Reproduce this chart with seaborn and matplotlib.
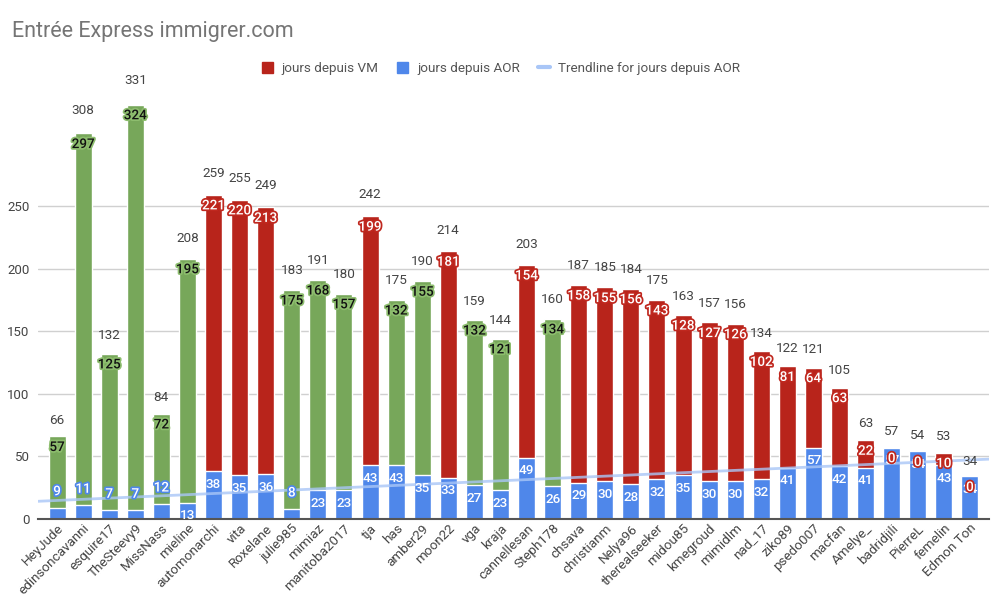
import matplotlib
matplotlib.use("Agg")
import matplotlib.pyplot as plt
import matplotlib.patheffects as pe
from matplotlib.patches import Patch
from matplotlib.lines import Line2D
import numpy as np
import pandas as pd
import seaborn as sns

# ---- data ----
names = ["HeyJude", "edinsoncavanni", "esquire17", "TheSteevy9", "MissNass", "mieline",
         "automonarchi", "vita", "Roxelane", "julie985", "mimiaz", "manitoba2017",
         "tja", "has", "amber29", "moon22", "vga", "kraja", "cannellesan", "Steph178",
         "chsava", "christianm", "Nelya96", "therealseeker", "midou85", "kmegroud",
         "mimidlm", "nad_17", "ziko89", "psedo007", "macfan", "Amelye_", "badridjili",
         "PierreL", "femelin", "Edmon Ton"]
jours_aor = [9, 11, 7, 7, 12, 13, 38, 35, 36, 8, 23, 23, 43, 43, 35, 33, 27, 23, 49, 26,
             29, 30, 28, 32, 35, 30, 30, 32, 41, 57, 42, 41, 57, 54, 43, 34]
jours_top = [57, 297, 125, 324, 72, 195, 221, 220, 213, 175, 168, 157, 199, 132, 155, 181,
             132, 121, 154, 134, 158, 155, 156, 143, 128, 127, 126, 102, 81, 64, 63, 22,
             0, 0, 10, 0]
top_kind = ["autre", "autre", "autre", "autre", "autre", "autre", "VM", "VM", "VM",
            "autre", "autre", "autre", "VM", "autre", "autre", "VM", "autre", "autre",
            "VM", "autre", "VM", "VM", "VM", "VM", "VM", "VM", "VM", "VM", "VM", "VM",
            "VM", "VM", "VM", "VM", "VM", "VM"]
totals = [66, 308, 132, 331, 84, 208, 259, 255, 249, 183, 191, 180, 242, 175, 190, 214,
          159, 144, 203, 160, 187, 185, 184, 175, 163, 157, 156, 134, 122, 121, 105, 63,
          57, 54, 53, 34]
y_ticks = [0, 50, 100, 150, 200, 250]

RED = "#b8241b"
BLUE = "#4f87ea"
GREEN = "#77a75a"
TREND = "#a9c6f7"
TXT = "#444444"

df = pd.DataFrame({"name": names, "aor": jours_aor, "top": jours_top,
                   "kind": top_kind, "total": totals})

sns.set_theme(style="white")
plt.rcParams["font.family"] = ["Roboto", "DejaVu Sans"]

fig = plt.figure(figsize=(10, 6.04), dpi=100)
ax = fig.add_axes([0.038, 0.1407, 0.951, 0.6937])

sns.barplot(data=df, x="name", y="total", hue="kind", order=names,
            palette={"VM": RED, "autre": GREEN}, dodge=False, width=0.65,
            saturation=1, legend=False, ax=ax, zorder=2)
sns.barplot(data=df, x="name", y="aor", order=names, color=BLUE, width=0.65,
            saturation=1, ax=ax, zorder=3)

# trendline for AOR
xs = np.arange(len(names))
coef = np.polyfit(xs, np.array(jours_aor, dtype=float), 1)
xl = np.array([-1.0, len(names)])
ax.plot(xl, np.polyval(coef, xl), color=TREND, lw=2, alpha=0.8, zorder=4,
        solid_capstyle="butt")

ax.set_xlim(-0.73, len(names) - 0.27)
ax.set_ylim(0, 334.7)
ax.set_yticks(y_ticks)
ax.set_yticklabels([str(v) for v in y_ticks], color=TXT, fontsize=9.5)
ax.grid(axis="y", color="#d0d0d0", lw=1, zorder=0)
ax.set_axisbelow(True)
ax.tick_params(axis="y", length=0, pad=6)
ax.tick_params(axis="x", length=0, pad=2)
ax.set_xticks(xs)
ax.set_xticklabels(names, rotation=45, ha="right", rotation_mode="anchor",
                   color=TXT, fontsize=9.7)
ax.set_xlabel("")
ax.set_ylabel("")
for s in ["top", "right", "left"]:
    ax.spines[s].set_visible(False)
ax.spines["bottom"].set_color("#555555")
ax.spines["bottom"].set_linewidth(1.5)
ax.spines["bottom"].set_zorder(5)

fs = 9.7
# blue labels
for i, v in enumerate(jours_aor):
    if v < 13:
        ax.annotate(str(v), (i, v), xytext=(0, 11.5), textcoords="offset points",
                    ha="center", va="center", color="white", fontsize=fs,
                    fontweight="medium", zorder=6,
                    path_effects=[pe.withStroke(linewidth=2.5, foreground=BLUE)])
    else:
        ax.annotate(str(v), (i, v), xytext=(0, -9.5), textcoords="offset points",
                    ha="center", va="center", color="white", fontsize=fs,
                    fontweight="medium", zorder=6)

# top segment labels
for i, (v, k, t) in enumerate(zip(jours_top, top_kind, totals)):
    if k == "VM":
        col, stroke = "white", "#c0281f"
    else:
        col, stroke = "#111111", "#8dbd6e"
    ax.annotate(str(v), (i, t), xytext=(0, -8), textcoords="offset points",
                ha="center", va="center", color=col, fontsize=fs,
                fontweight="medium", zorder=7,
                path_effects=[pe.withStroke(linewidth=2.5, foreground=stroke)])

# totals
for i, t in enumerate(totals):
    ax.annotate(str(t), (i, t), xytext=(0, (14.4 + 0.028 * t) / 1.389),
                textcoords="offset points", ha="center", va="center",
                color=TXT, fontsize=fs, zorder=7, annotation_clip=False)

fig.text(0.012, 0.948, "Entrée Express immigrer.com", fontsize=15.5, color="#757575",
         ha="left", va="center")

handles = [Patch(facecolor=RED, edgecolor=RED),
           Patch(facecolor=BLUE, edgecolor=BLUE),
           Line2D([0], [0], color=TREND, lw=3)]
labels = ["jours depuis VM", "jours depuis AOR", "Trendline for jours depuis AOR"]
leg = fig.legend(handles, labels, loc="center", bbox_to_anchor=(0.501, 0.886), ncol=3,
                 frameon=False, fontsize=9.7, handlelength=0.85, handleheight=0.85,
                 handletextpad=0.65, columnspacing=1.35)
for t in leg.get_texts():
    t.set_color("#555555")

fig.savefig("out.png", dpi=100)
